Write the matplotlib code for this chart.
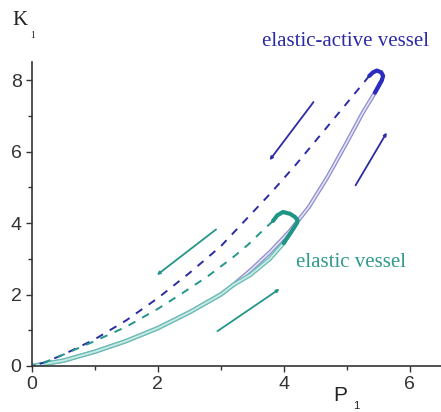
import numpy as np
import matplotlib.pyplot as plt

# elastic vessel (teal)
el_load_p = [0, 0.5, 1.0, 1.5, 2.0, 2.5, 3.0, 3.2, 3.47, 3.78, 4.0, 4.12, 4.21]
el_load_k = [0, 0.15, 0.4, 0.7, 1.06, 1.5, 2.0, 2.27, 2.55, 3.0, 3.44, 3.75, 4.0]
el_loop_p = [4.0, 4.12, 4.21, 4.22, 4.18, 4.1, 3.99, 3.9, 3.83]
el_loop_k = [3.44, 3.75, 4.0, 4.08, 4.17, 4.26, 4.31, 4.22, 4.06]
el_unload_p = [3.83, 3.6, 3.43, 3.2, 2.8, 2.4, 2.0, 1.5, 1.0, 0.5, 0.2, 0]
el_unload_k = [4.06, 3.68, 3.39, 3.05, 2.52, 2.05, 1.6, 1.1, 0.7, 0.32, 0.1, 0]

# elastic-active vessel (blue)
ac_load_p = [0, 0.5, 1.0, 1.5, 2.0, 2.5, 3.0, 3.2, 3.5, 3.8, 4.1, 4.4, 4.7, 5.0, 5.26, 5.45, 5.56]
ac_load_k = [0, 0.15, 0.4, 0.7, 1.06, 1.5, 2.0, 2.27, 2.72, 3.22, 3.78, 4.45, 5.3, 6.25, 7.1, 7.65, 8.0]
ac_loop_p = [5.45, 5.56, 5.58, 5.55, 5.48, 5.42, 5.36]
ac_loop_k = [7.65, 8.0, 8.12, 8.22, 8.27, 8.22, 8.12]
ac_unload_p = [5.36, 5.0, 4.6, 4.2, 3.8, 3.4, 3.0, 2.5, 2.0, 1.5, 1.0, 0.5, 0.2, 0]
ac_unload_k = [8.12, 7.35, 6.5, 5.65, 4.85, 4.1, 3.35, 2.6, 1.9, 1.28, 0.75, 0.32, 0.1, 0]

# direction arrows: (start, end)
el_arrows = [((2.96, 3.87), (1.95, 2.5)), ((2.91, 0.93), (3.97, 2.2))]
ac_arrows = [((4.5, 7.45), (3.75, 5.7)), ((5.12, 4.99), (5.66, 6.6))]

blue = '#2b2ba6'
teal = '#24958a'

fig = plt.figure(figsize=(4.41, 4.12), dpi=100)
ax = fig.add_axes([0.0726, 0.1117, 0.9274, 0.737])

# loading branches (light, double-edged look)
ax.plot(ac_load_p, ac_load_k, color='#8c8cd0', lw=3.0, solid_capstyle='round')
ax.plot(ac_load_p, ac_load_k, color='#e4e4f6', lw=1.2)
ax.plot(el_load_p[:11], el_load_k[:11], color='#6bbdb4', lw=3.2)
ax.plot(el_load_p[:11], el_load_k[:11], color='#c8ebe6', lw=1.3)

# loops
ax.plot(ac_loop_p, ac_loop_k, color='#2c2cc0', lw=3.0, solid_capstyle='round')
ax.plot(el_loop_p, el_loop_k, color='#1e9585', lw=3.0, solid_capstyle='round')

# unloading branches
ax.plot(ac_unload_p, ac_unload_k, color=blue, lw=1.4, dashes=(4, 4))
ax.plot(el_unload_p, el_unload_k, color=teal, lw=1.4, dashes=(4, 4))

for (s, e) in ac_arrows:
    ax.annotate('', xy=e, xytext=s,
                arrowprops=dict(arrowstyle='-|>', color=blue, lw=1.3, mutation_scale=4))
for (s, e) in el_arrows:
    ax.annotate('', xy=e, xytext=s,
                arrowprops=dict(arrowstyle='-|>', color=teal, lw=1.3, mutation_scale=4))

ax.text(4.99, 9.07, 'elastic-active vessel', color=blue, family='Liberation Serif',
        fontsize=15, ha='center', va='center', clip_on=False)
ax.text(5.07, 2.91, 'elastic vessel', color='#2f9a8c', family='Liberation Serif',
        fontsize=15, ha='center', va='center')

ax.set_xlim(0, 6.5)
ax.set_ylim(0, 8.5)
ax.set_xticks([0, 2, 4, 6])
ax.set_yticks([0, 2, 4, 6, 8])
ax.set_xticks([1, 3, 5], minor=True)
ax.set_yticks([1, 3, 5, 7], minor=True)
ax.spines['top'].set_visible(False)
ax.spines['right'].set_visible(False)
for s in ['left', 'bottom']:
    ax.spines[s].set_linewidth(1.2)
    ax.spines[s].set_color('#333333')
ax.tick_params(which='major', length=4, width=1, labelsize=14, colors='#333333')
ax.tick_params(which='minor', length=3, width=1, colors='#333333')
for lb in ax.get_xticklabels() + ax.get_yticklabels():
    lb.set_family('Liberation Sans')

fig.text(0.028, 0.95, 'K', family='Liberation Serif', fontsize=15, color='#222222',
         ha='left', va='center')
fig.text(0.068, 0.915, '1', family='Liberation Serif', fontsize=7, color='#222222',
         ha='left', va='center')
fig.text(0.755, 0.04, 'P', family='Liberation Sans', fontsize=15, color='#222222',
         ha='left', va='center')
fig.text(0.8, 0.014, '1', family='Liberation Sans', fontsize=8, color='#222222',
         ha='left', va='center')

fig.savefig('out.png', dpi=100)
